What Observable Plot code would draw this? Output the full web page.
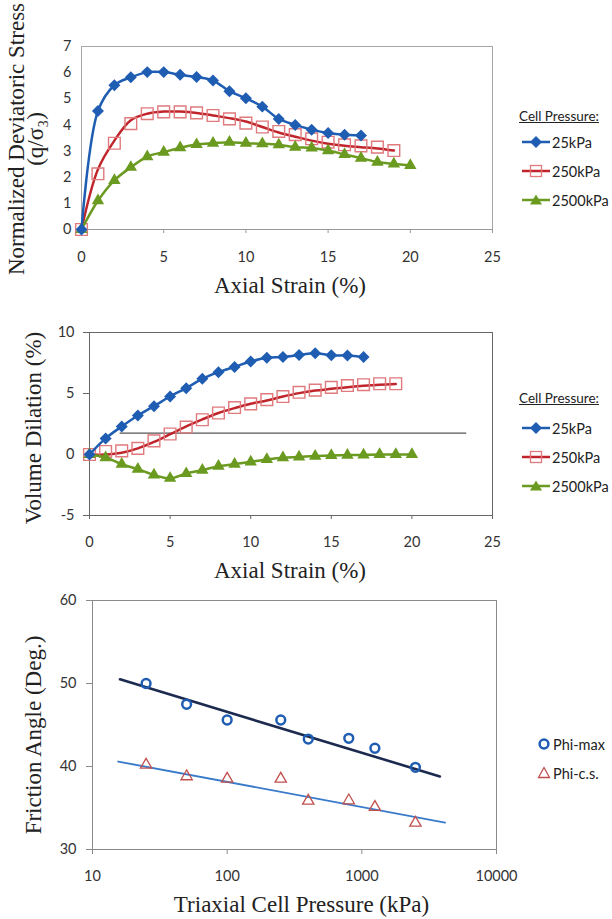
<!DOCTYPE html>
<html><head><meta charset="utf-8">
<script src="https://cdn.jsdelivr.net/npm/d3@7"></script>
<script src="https://cdn.jsdelivr.net/npm/@observablehq/plot@0.6"></script>
<style>
body{margin:0;background:#fff;}
#wrap{position:relative;width:612px;height:919px;overflow:hidden;background:#fff;}
.panel{position:absolute;left:0;}
.lg{position:absolute;font-family:Lato,"Open Sans",sans-serif;color:#222;white-space:nowrap;}
.lghead{font-size:13.5px;text-decoration:underline;}
.lgitem{font-size:14.5px;display:flex;align-items:center;height:18px;}
.lgitem svg{display:block;}
</style></head>
<body><div id="wrap"></div>
<script>
// ---------- data ----------
const strain = [0,1,2,3,4,5,6,7,8,9,10,11,12,13,14,15,16,17,18,19,20];
const seriesNames = ["25kPa","250kPa","2500kPa"];
// Panel 1: normalized deviatoric stress q/sigma3
const stress25 = [0,4.53,5.52,5.82,6.02,6.02,5.92,5.83,5.7,5.29,5.02,4.7,4.23,4.0,3.82,3.69,3.62,3.6];
const stress250 = [0,2.13,3.3,4.05,4.43,4.5,4.5,4.46,4.36,4.23,4.07,3.92,3.75,3.63,3.47,3.34,3.24,3.2,3.15,3.02];
const stress250Fit = [0,2.3,3.4,4.18,4.43,4.51,4.51,4.46,4.36,4.26,4.13,3.92,3.71,3.55,3.4,3.28,3.2,3.15,3.1,3.02];
const stress2500 = [0,1.1,1.88,2.38,2.79,2.96,3.13,3.25,3.3,3.34,3.3,3.28,3.24,3.15,3.12,3.02,2.87,2.73,2.58,2.51,2.45];
// Panel 2: volume dilation (%)
const dil25 = [0,1.32,2.3,3.2,3.96,4.76,5.44,6.2,6.75,7.18,7.62,7.93,8.0,8.15,8.3,8.13,8.12,8.0];
const dil250 = [0,0.25,0.3,0.5,1.12,1.68,2.25,2.85,3.4,3.85,4.15,4.5,4.75,5.1,5.28,5.5,5.65,5.72,5.8,5.8];
const dil250Fit = [0,0,0.14,0.5,1.03,1.66,2.3,2.88,3.4,3.8,4.16,4.43,4.75,5.03,5.24,5.38,5.52,5.63,5.72,5.78];
const dil2500 = [0,-0.25,-0.8,-1.2,-1.68,-1.95,-1.56,-1.28,-0.96,-0.8,-0.6,-0.41,-0.26,-0.2,-0.13,-0.08,-0.05,-0.03,0,0,0];
const dilRefLine = [{x1:1.9, x2:23.4, y:1.76}];
const strainTicks = [0,5,10,15,20,25];
const stressTicks = [0,1,2,3,4,5,6,7];
const dilTicks = [-5,0,5,10];
// Panel 3: friction angle vs cell pressure
const pressure = [25,50,100,250,400,800,1250,2500];
const phiMax = [50.0,47.5,45.6,45.6,43.3,43.4,42.2,39.9];
const phiCS = [40.2,38.8,38.5,38.5,35.85,35.9,35.1,33.2];
const phiMaxTrendP = [16,3800];
const phiMaxTrendV = [50.5,38.8];
const phiCSTrendP = [15.5,4150];
const phiCSTrendV = [40.6,33.25];
const pressureTicks = [10,100,1000,10000];
const angleTicks = [30,40,50,60];
const phiNames = ["Phi-max","Phi-c.s."];

// ---------- styles ----------
const BLUE = "#1f5db3", RED = "#c0252c", RED_M = "#e07a7d", GREEN = "#6a9a1f";
const SERIF = "'Liberation Serif','Times New Roman',serif";
const SANS = "Lato,'Open Sans',sans-serif";
const pts = (xs, ys) => ys.map((v, i) => ({x: xs[i], y: v}));
const fmt = d => String(d);
const baseStyle = {fontFamily: SANS, fontSize: "14.5px", color: "#333", background: "transparent", overflow: "visible"};
const wrap = document.getElementById("wrap");
function place(svg, top){ svg.classList.add("panel"); svg.style.top = top + "px"; wrap.appendChild(svg); }
const titleOpts = {text:d=>d, fontFamily:SERIF, fontSize:23, fill:"#222", textAnchor:"middle", lineAnchor:"middle"};

function seriesMarks(a, b, bFit, c){
  return [
    Plot.line(pts(strain, bFit), {x:"x", y:"y", stroke:RED, strokeWidth:2.5, curve:"catmull-rom"}),
    Plot.dot(pts(strain, b), {x:"x", y:"y", symbol:"square", r:6.6, fill:"none", stroke:RED_M, strokeWidth:1.4}),
    Plot.line(pts(strain, c), {x:"x", y:"y", stroke:GREEN, strokeWidth:2.5, curve:"catmull-rom"}),
    Plot.dot(pts(strain, c), {x:"x", y:"y", symbol:"triangle", r:4.6, fill:GREEN, stroke:"none"}),
    Plot.line(pts(strain, a), {x:"x", y:"y", stroke:BLUE, strokeWidth:2.5, curve:"catmull-rom"}),
    Plot.dot(pts(strain, a), {x:"x", y:"y", symbol:"diamond2", r:5.4, fill:BLUE, stroke:"none"})
  ];
}

// ---------- panel 1 ----------
const p1 = Plot.plot({
  width:612, height:300,
  marginTop:46, marginBottom:71, marginLeft:81, marginRight:120,
  x:{domain:[0,25]}, y:{domain:[0,7]},
  style: baseStyle,
  marks:[
    Plot.frame({stroke:"#a6a6a6"}),
    Plot.axisX({ticks:strainTicks, tickFormat:fmt, tickSize:4, tickPadding:18, stroke:"#999", label:null}),
    Plot.axisY({ticks:stressTicks, tickFormat:fmt, tickSize:0, tickPadding:10, label:null}),
    Plot.ruleY([0], {stroke:"#999"}),
    ...seriesMarks(stress25, stress250, stress250Fit, stress2500),
    Plot.text(["Axial Strain (%)"], {...titleOpts, frameAnchor:"bottom", dy:56, dx:3}),
    Plot.text(["Normalized Deviatoric Stress\n(q/σ₃)"], {...titleOpts, frameAnchor:"left", rotate:-90, dx:-54, dy:1, lineHeight:0.8})
  ]
});
place(p1, 0);

// ---------- panel 2 ----------
const p2 = Plot.plot({
  width:612, height:280,
  marginTop:32, marginBottom:65, marginLeft:89, marginRight:120,
  x:{domain:[0,25]}, y:{domain:[-5,10]},
  style: baseStyle,
  marks:[
    Plot.frame({stroke:"#666"}),
    Plot.axisX({ticks:strainTicks, tickFormat:fmt, tickSize:4, tickPadding:17, stroke:"#666", label:null}),
    Plot.axisY({ticks:dilTicks, tickFormat:fmt, tickSize:6, tickPadding:9, stroke:"#666", label:null}),
    Plot.ruleY(dilRefLine, {y:"y", x1:"x1", x2:"x2", stroke:"#555", strokeWidth:1.2}),
    ...seriesMarks(dil25, dil250, dil250Fit, dil2500),
    Plot.text(["Axial Strain (%)"], {...titleOpts, frameAnchor:"bottom", dy:55, dx:-1}),
    Plot.text(["Volume Dilation (%)"], {...titleOpts, frameAnchor:"left", rotate:-90, dx:-56, dy:4})
  ]
});
place(p2, 300);

// ---------- panel 3 ----------
const p3 = Plot.plot({
  width:612, height:339,
  marginTop:20, marginBottom:70, marginLeft:92, marginRight:116,
  x:{type:"log", domain:[10,10000]}, y:{domain:[30,60]},
  style: baseStyle,
  marks:[
    Plot.frame({stroke:"#8a8a8a"}),
    Plot.axisX({ticks:pressureTicks, tickFormat:fmt, tickSize:5, tickPadding:16, stroke:"#8a8a8a", label:null}),
    Plot.axisY({ticks:angleTicks, tickFormat:fmt, tickSize:6, tickPadding:10, stroke:"#8a8a8a", label:null}),
    Plot.line(pts(phiMaxTrendP, phiMaxTrendV), {x:"x", y:"y", stroke:"#1b2a4e", strokeWidth:2.6}),
    Plot.line(pts(phiCSTrendP, phiCSTrendV), {x:"x", y:"y", stroke:"#3a7acb", strokeWidth:1.8}),
    Plot.dot(pts(pressure, phiMax), {x:"x", y:"y", r:4.4, fill:"none", stroke:BLUE, strokeWidth:2.5}),
    Plot.dot(pts(pressure, phiCS), {x:"x", y:"y", symbol:"triangle", r:4.2, fill:"none", stroke:"#c0504d", strokeWidth:1.3}),
    Plot.text(["Triaxial Cell Pressure (kPa)"], {...titleOpts, frameAnchor:"bottom", dy:55, dx:7}),
    Plot.text(["Friction Angle (Deg.)"], {...titleOpts, frameAnchor:"left", rotate:-90, dx:-59, dy:10})
  ]
});
place(p3, 580);

// ---------- legends (HTML) ----------
function swatch(kind){
  const ns = "http://www.w3.org/2000/svg";
  const s = document.createElementNS(ns, "svg");
  s.setAttribute("width", 30); s.setAttribute("height", 16);
  let inner = "";
  if (kind === 0) inner = `<line x1="0" y1="8" x2="28" y2="8" stroke="${BLUE}" stroke-width="2.5"/><polygon points="14,2 20,8 14,14 8,8" fill="${BLUE}"/>`;
  if (kind === 1) inner = `<line x1="0" y1="8" x2="28" y2="8" stroke="${RED}" stroke-width="2.5"/><rect x="8.5" y="2.5" width="11" height="11" fill="none" stroke="${RED_M}" stroke-width="1.3"/>`;
  if (kind === 2) inner = `<line x1="0" y1="8" x2="28" y2="8" stroke="${GREEN}" stroke-width="2.5"/><polygon points="14,2.5 20,12.5 8,12.5" fill="${GREEN}"/>`;
  if (kind === 3) inner = `<circle cx="8" cy="8" r="4.4" fill="none" stroke="${BLUE}" stroke-width="2.5"/>`;
  if (kind === 4) inner = `<polygon points="8,2.5 13.5,12.5 2.5,12.5" fill="none" stroke="#c0504d" stroke-width="1.3"/>`;
  s.innerHTML = inner;
  return s;
}
function cellLegend(headY, itemYs){
  const h = document.createElement("div");
  h.className = "lg lghead"; h.textContent = "Cell Pressure:";
  h.style.left = "519px"; h.style.top = (headY - 9) + "px";
  wrap.appendChild(h);
  seriesNames.forEach((n, i) => {
    const d = document.createElement("div");
    d.className = "lg lgitem";
    d.style.left = "522px"; d.style.top = (itemYs[i] - 9) + "px";
    d.appendChild(swatch(i));
    const t = document.createElement("span"); t.textContent = n;
    d.appendChild(t);
    wrap.appendChild(d);
  });
}
cellLegend(117, [142, 171, 200]);
cellLegend(399, [428, 457, 486]);
phiNames.forEach((n, i) => {
  const d = document.createElement("div");
  d.className = "lg lgitem";
  d.style.left = "536px"; d.style.top = ([744, 773][i] - 9) + "px";
  const sw = swatch(3 + i); sw.setAttribute("width", 17);
  d.appendChild(sw);
  const t = document.createElement("span"); t.textContent = n;
  d.appendChild(t);
  wrap.appendChild(d);
});
</script>
</body></html>
